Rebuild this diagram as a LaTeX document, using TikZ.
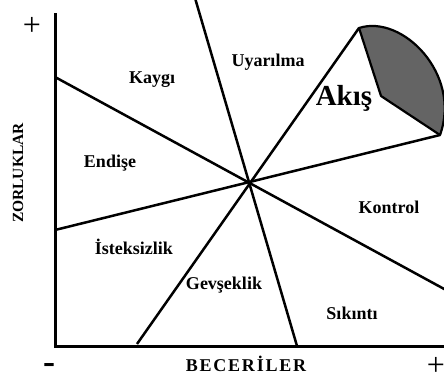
\documentclass[tikz,border=0pt]{standalone}
\usepackage{fontspec}
\setmainfont{Liberation Serif}
\usepackage{xcolor}
\definecolor{flowgray}{RGB}{100,100,100}

\begin{document}
\begin{tikzpicture}[x=1pt,y=-1pt,
    axis/.style={line width=3pt},
    divider/.style={line width=2.5pt},
    zone/.style={font=\fontsize{18}{18}\selectfont\bfseries},
    sign/.style={font=\fontsize{32}{32}\selectfont}]
  \useasboundingbox (0,0) rectangle (444,383);
  \clip (0,0) rectangle (444,383);

  % axes
  \coordinate (origin) at (55,346);
  \coordinate (ytop) at (55,13);
  \coordinate (xend) at (446,346);

  % divider end points
  \coordinate (mid) at (249,182);
  \coordinate (kaygiL) at (55,77);
  \coordinate (sikintiR) at (446,290);
  \coordinate (istekL) at (55,230);
  \coordinate (flowR) at (440,135);
  \coordinate (uyarT) at (195,-2);
  \coordinate (gevsB) at (297,346);
  \coordinate (flowT) at (359,28);
  \coordinate (gevsL) at (137,344);
  \coordinate (flowM) at (381,96);

  % flow sector
  \draw[fill=flowgray, line width=2.2pt, line join=round]
    (flowT) .. controls (402,14) and (462,74) .. (flowR) -- (flowM) -- cycle;

  \draw[divider] (kaygiL) -- (sikintiR);
  \draw[divider] (istekL) -- (flowR);
  \draw[divider] (uyarT) -- (gevsB);
  \draw[divider] (flowT) -- (gevsL);

  \draw[axis] (ytop) -- (origin) -- (xend);

  % labels
  \node[zone] (kaygi) at (152,80) {Kaygı};
  \node[zone] (uyarilma) at (268,62) {Uyarılma};
  \node[font=\fontsize{29}{29}\selectfont\bfseries] (akis) at (344,98) {Akış};
  \node[zone] (endise) at (110,163) {Endişe};
  \node[zone] (kontrol) at (389,207) {Kontrol};
  \node[zone] (isteksizlik) at (134,247) {İsteksizlik};
  \node[zone] (gevseklik) at (224,285) {Gevşeklik};
  \node[zone] (sikinti) at (352,313) {Sıkıntı};
  \node[zone, font=\fontsize{18}{18}\selectfont\bfseries\addfontfeature{LetterSpace=10}] (beceriler) at (246,364) {BECERİLER};
  \node[zone, font=\fontsize{15.5}{15.5}\selectfont\bfseries, rotate=90] (zorluklar) at (18,173) {ZORLUKLAR};
  \node[sign] (plusY) at (32,26) {+};
  \node[sign, font=\fontsize{36}{36}\selectfont\bfseries] (minusX) at (49,368) {-};
  \node[sign] (plusX) at (436,366) {+};
\end{tikzpicture}
\end{document}
